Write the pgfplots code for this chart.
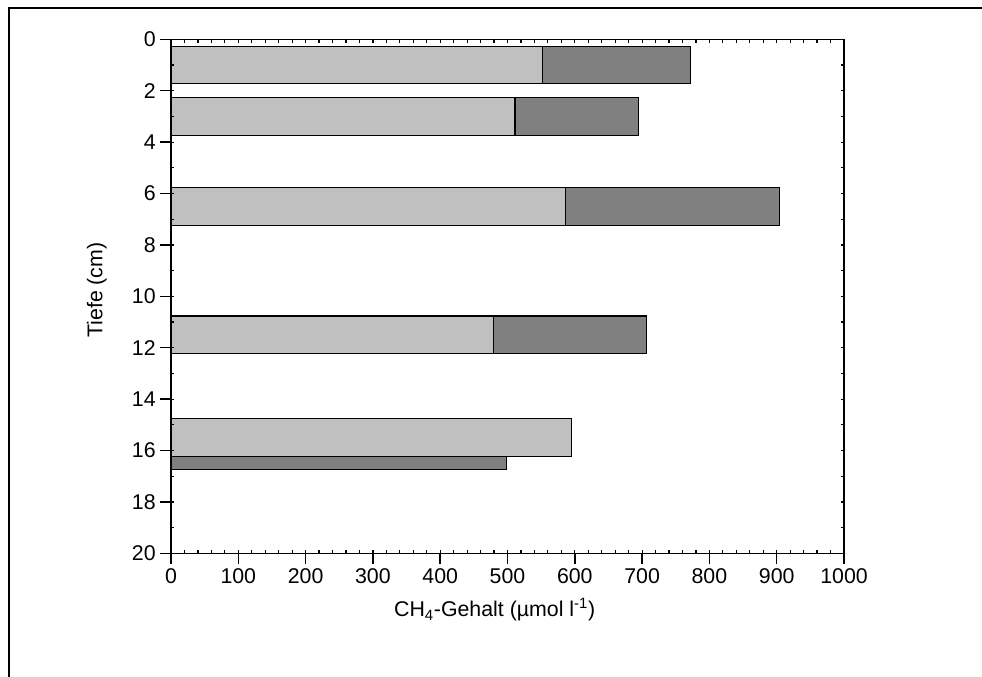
\documentclass[border=0pt]{standalone}
\usepackage{fontspec}
\setmainfont{Liberation Sans}
\usepackage{pgfplots}
\pgfplotsset{compat=1.18}
\definecolor{lightbar}{HTML}{C0C0C0}
\definecolor{darkbar}{HTML}{808080}
\begin{document}
\begin{tikzpicture}[x=0.75pt,y=-0.75pt]
\useasboundingbox (0,0) rectangle (982,677);
\begin{scope}
\clip (0,0) rectangle (982,677);
\draw[line width=1.5pt] (8.5,8.5) rectangle (1000,700);
\end{scope}
\coordinate (O) at (171,553.3);
\begin{axis}[
  at={(O)}, anchor=south west,
  scale only axis, width=504.75pt, height=385.5pt,
  xmin=0, xmax=1000, ymin=0, ymax=20, y dir=reverse,
  xtick={0,100,...,1000}, ytick={0,2,...,20},
  xtick pos=left, ytick pos=left, tick align=outside,
  major tick length=8pt,
  axis line style={line width=1.1pt},
  tick style={line width=1.1pt, black},
  ticklabel style={font=\fontsize{16}{19}\selectfont},
  /pgf/number format/assume math mode=true,
  /pgf/number format/1000 sep={},
  xlabel={CH\textsubscript{4}-Gehalt (µmol l\textsuperscript{-1})},
  ylabel={Tiefe (cm)},
  label style={font=\fontsize{16}{19}\selectfont},
  xlabel style={at={(axis description cs:0.481,-0.110)}, anchor=center},
  ylabel style={at={(axis description cs:-0.110,0.512)}, anchor=center},
]
\addplot[xbar, bar width=1.46, bar shift=0pt, fill=darkbar, draw=black, line width=0.9pt]
  coordinates {(772,1) (695,3) (904,6.5) (706,11.5) (498,16)};
\addplot[xbar, bar width=1.46, bar shift=0pt, fill=lightbar, draw=black, line width=0.9pt]
  coordinates {(552,1) (511,3) (586,6.5) (479,11.5) (595,15.5)};
\end{axis}
\begin{axis}[
  at={(O)}, anchor=south west,
  scale only axis, width=504.75pt, height=385.5pt,
  xmin=0, xmax=1000, ymin=0, ymax=20, y dir=reverse,
  xtick={0,20,...,1000}, ytick={0,1,...,20},
  xticklabels={}, yticklabels={},
  xtick pos=both, ytick pos=both, tick align=inside,
  major tick length=2.5pt,
  axis line style={line width=1.1pt},
  tick style={line width=0.9pt, black},
]
\end{axis}
\end{tikzpicture}
\end{document}
